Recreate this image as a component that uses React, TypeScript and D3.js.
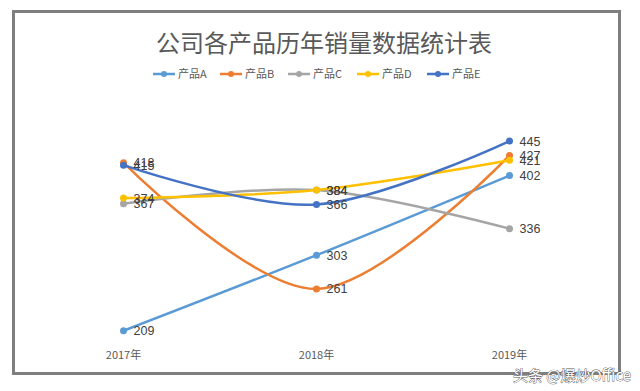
import React from 'react';
import * as d3 from 'd3';

const years = ['2017年', '2018年', '2019年'];
const seriesNames = ['产品A', '产品B', '产品C', '产品D', '产品E'];
const valuesA = [209, 303, 402];
const valuesB = [418, 261, 427];
const valuesC = [367, 384, 336];
const valuesD = [374, 384, 421];
const valuesE = [415, 366, 445];
const colors = ['#5b9bd5', '#ed7d31', '#a5a5a5', '#ffc000', '#4472c4'];

const W = 640;
const H = 391;
const FONT = "'Noto Sans CJK SC', 'Liberation Sans', sans-serif";

export default function App() {
  const series = [valuesA, valuesB, valuesC, valuesD, valuesE].map((v, i) => ({
    name: seriesNames[i], values: v, color: colors[i],
  }));

  const x = d3.scaleBand<string>().domain(years).range([27, 606]);
  const cx = (c: string) => (x(c) ?? 0) + x.bandwidth() / 2;
  const y = d3.scaleLinear().domain([200, 450]).range([338, 137]);

  const line = d3.line<number>()
    .x((_, i) => cx(years[i]))
    .y(d => y(d))
    .curve(d3.curveCardinal.tension(0));

  // legend positions
  const legendX = [153, 220, 288, 357, 427];

  return (
    <svg width={W} height={H} style={{ position: 'absolute', left: 0, top: 0, background: '#fff' }}>
      <rect x={0} y={0} width={W} height={H} fill="#fff" />
      <rect x={13.5} y={11.5} width={606} height={362} fill="#fff" stroke="#7f7f7f" strokeWidth={3} />

      <text x={324} y={52} textAnchor="middle" fontFamily={FONT} fontSize={24} fill="#595959">
        公司各产品历年销量数据统计表
      </text>

      {series.map((s, i) => (
        <g key={s.name} transform={`translate(${legendX[i]},74)`}>
          <line x1={0} x2={22} y1={0} y2={0} stroke={s.color} strokeWidth={2.5} />
          <circle cx={11} cy={0} r={3} fill={s.color} />
          <text x={25} y={4} fontFamily={FONT} fontSize={11} fill="#595959">{s.name}</text>
        </g>
      ))}

      {series.map(s => (
        <path key={s.name} d={line(s.values) ?? ''} fill="none" stroke={s.color} strokeWidth={2.5} />
      ))}

      {series.map(s => (
        <g key={s.name + 'm'}>
          {s.values.map((v, i) => (
            <circle key={i} cx={cx(years[i])} cy={y(v)} r={3.5} fill={s.color} />
          ))}
        </g>
      ))}

      {series.map(s => (
        <g key={s.name + 'l'}>
          {s.values.map((v, i) => (
            <text key={i} x={cx(years[i]) + 10} y={y(v) + 4.5} fontFamily="'Liberation Sans', Arial, sans-serif"
              fontSize={12.5} fill="#404040">{v}</text>
          ))}
        </g>
      ))}

      {years.map(c => (
        <text key={c} x={cx(c)} y={359} textAnchor="middle" fontFamily={FONT} fontSize={11} fill="#595959">{c}</text>
      ))}

      <text x={631} y={381} textAnchor="end" fontFamily={FONT} fontSize={15} fill="#fff"
        stroke="#555" strokeWidth={0.8} paintOrder="stroke">头条 @爆炒Office</text>
    </svg>
  );
}
